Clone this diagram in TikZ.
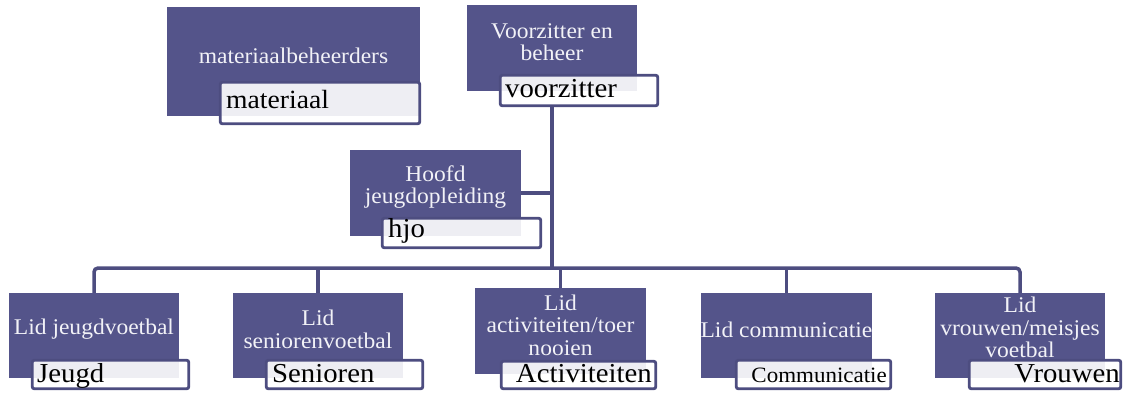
\documentclass[tikz,border=0pt]{standalone}
\usepackage{fontspec}
\setmainfont{Liberation Serif}[FakeStretch=1.05]
\definecolor{boxc}{HTML}{54548A}
\definecolor{linec}{HTML}{4D4D80}
\definecolor{wtext}{HTML}{F2F2F7}
\tikzset{
  mainbox/.style={fill=boxc, draw=none, inner sep=0pt},
  boxtext/.style={text=wtext, align=center, inner sep=0pt, font=\fontsize{22.4}{22.5}\selectfont},
  namebox/.style={fill=white, fill opacity=0.9, draw=linec, draw opacity=1, line width=2.8pt, rounded corners=2pt, inner sep=0pt},
  nametext/.style={text=black, inner sep=0pt, font=\fontsize{27.4}{30}\selectfont},
  conn/.style={draw=linec, line width=3.5pt},
}
\begin{document}
\begin{tikzpicture}[x=1pt, y=-1pt]
\useasboundingbox (0,0) rectangle (1125,392);
% main boxes
\node[mainbox, minimum width=253pt, minimum height=109pt] (mb) at (293.5,61.5) {};
\node[mainbox, minimum width=170pt, minimum height=86pt] (vz) at (552,48) {};
\node[mainbox, minimum width=171pt, minimum height=86pt] (hj) at (435.5,193) {};
\node[mainbox, minimum width=170pt, minimum height=85pt] (b1) at (94,335.5) {};
\node[mainbox, minimum width=170pt, minimum height=85pt] (b2) at (318,335.5) {};
\node[mainbox, minimum width=171pt, minimum height=86pt] (b3) at (560.5,331) {};
\node[mainbox, minimum width=171pt, minimum height=85pt] (b4) at (786.5,335.5) {};
\node[mainbox, minimum width=170pt, minimum height=85pt] (b5) at (1020,335.5) {};
% connectors
\coordinate (busy) at (0,268);
\draw[conn] (vz.center |- 0,107) -- (vz.center |- busy);
\draw[conn] (hj.east) -- (hj.east -| vz.center);
\draw[conn, rounded corners=4pt] (b1.north) -- (b1.north |- busy) -- (b5.north |- busy) -- (b5.north);
\draw[conn] (b2.north) -- (b2.north |- busy);
\draw[conn] (b3.north) -- (b3.north |- busy);
\draw[conn] (b4.north) -- (b4.north |- busy);
% main box texts
\node[boxtext] (mbt) at (293.5,55.5) {materiaalbeheerders};
\node[boxtext] (vzt) at (552,42) {Voorzitter en\\beheer};
\node[boxtext] (hjt) at (435.5,187) {Hoofd\\jeugdopleiding};
\node[boxtext] (b1t) at (94,329.5) {Lid jeugdvoetbal};
\node[boxtext] (b2t) at (318,329.5) {Lid\\seniorenvoetbal};
\node[boxtext] (b3t) at (560.5,325) {Lid\\activiteiten/toer\\nooien};
\node[boxtext] (b4t) at (786.5,329.5) {Lid communicatie};
\node[boxtext] (b5t) at (1020,327.5) {Lid\\vrouwen/meisjes\\voetbal};
% name boxes
\node[namebox, minimum width=199.5pt, minimum height=41.5pt] (mn) at (320,103) {};
\node[namebox, minimum width=157.5pt, minimum height=30.5pt] (vn) at (579,90.5) {};
\node[namebox, minimum width=158.5pt, minimum height=29.5pt] (hn) at (461.5,233) {};
\node[namebox, minimum width=156.5pt, minimum height=28.5pt] (n1) at (110.5,374.5) {};
\node[namebox, minimum width=156.5pt, minimum height=28.5pt] (n2) at (344.5,374.5) {};
\node[namebox, minimum width=154.5pt, minimum height=27.5pt] (n3) at (578.5,375) {};
\node[namebox, minimum width=154.5pt, minimum height=28.5pt] (n4) at (813.5,374.5) {};
\node[namebox, minimum width=151.5pt, minimum height=28.5pt] (n5) at (1045,374.5) {};
% name texts
\node[nametext, anchor=base west, font=\fontsize{26.3}{30}\selectfont] (mnt) at (226,108) {materiaal};
\node[nametext, anchor=base west] (vnt) at (505,97) {voorzitter};
\node[nametext, anchor=base west] (hnt) at (388,237) {hjo};
\node[nametext, anchor=base west] (n1t) at (37,382) {Jeugd};
\node[nametext, anchor=base west] (n2t) at (272,382) {Senioren};
\node[nametext, anchor=base east] (n3t) at (652,382) {Activiteiten};
\node[nametext, anchor=base east, font=\fontsize{21.9}{24}\selectfont] (n4t) at (887,382) {Communicatie};
\node[nametext, anchor=base east] (n5t) at (1120,382) {Vrouwen};
\end{tikzpicture}
\end{document}
